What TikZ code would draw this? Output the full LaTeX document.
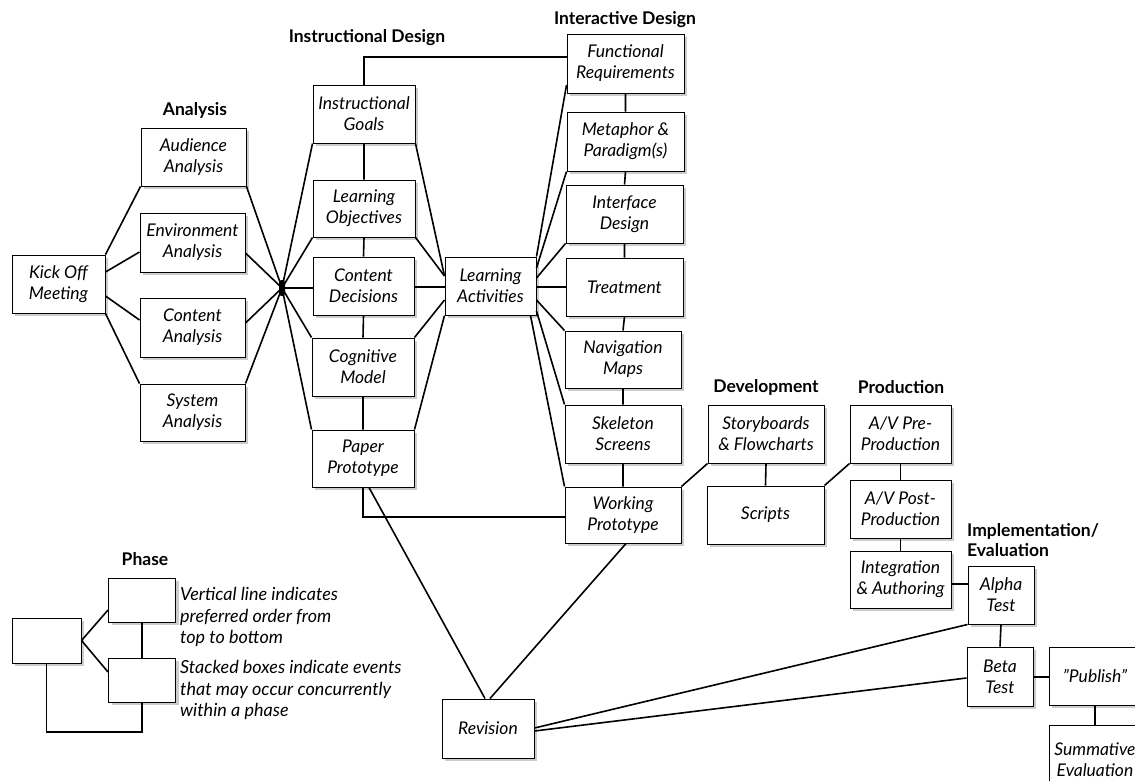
\documentclass[tikz,border=0pt]{standalone}
\usepackage{fontspec}
\setmainfont{Lato}
\usetikzlibrary{shadows}
\begin{document}
\begin{tikzpicture}[x=1pt,y=-1pt,
  box/.style={draw, line width=1pt, fill=white, align=center, inner sep=0pt,
    font=\fontsize{17.5}{21}\selectfont\itshape,
    drop shadow={shadow xshift=3pt, shadow yshift=-3pt, fill=black!40, opacity=0.5}},
  conn/.style={line width=1.6pt},
  phase/.style={font=\fontsize{17.5}{19.5}\selectfont\bfseries, align=center, inner sep=0pt},
  note/.style={font=\fontsize{18}{21.5}\selectfont\itshape, align=left, anchor=west, inner sep=0pt}]
\useasboundingbox (0,0) rectangle (1135,780);
\clip (0,0) rectangle (1135,780);

% ---- Analysis
\node[box,minimum width=93pt,minimum height=58pt] (kick) at (58.5,284) {Kick Off\\Meeting};
\node[box,minimum width=105pt,minimum height=58pt] (aud) at (193.5,157) {Audience\\Analysis};
\node[box,minimum width=105pt,minimum height=59pt] (env) at (192.5,242.5) {Environment\\Analysis};
\node[box,minimum width=105pt,minimum height=59pt] (con) at (192.5,327.5) {Content\\Analysis};
\node[box,minimum width=105pt,minimum height=57pt] (sys) at (192.5,412.5) {System\\Analysis};
\node[fill=black, inner sep=0pt, minimum width=6pt, minimum height=16pt, rounded corners=2.5pt] (hub) at (282,288) {};

% ---- Instructional design
\node[box,minimum width=102pt,minimum height=58pt] (ig) at (364,114) {Instructional\\Goals};
\node[box,minimum width=102pt,minimum height=57pt] (lo) at (364,208.5) {Learning\\Objectives};
\node[box,minimum width=101pt,minimum height=58pt] (cd) at (363.5,286) {Content\\Decisions};
\node[box,minimum width=102pt,minimum height=58pt] (cm) at (363,367) {Cognitive\\Model};
\node[box,minimum width=102pt,minimum height=57pt] (pp) at (363,458.5) {Paper\\Prototype};
\node[box,minimum width=91pt,minimum height=58pt] (la) at (490.5,286) {Learning\\Activities};

% ---- Interactive design
\node[box,minimum width=117pt,minimum height=59pt] (fr) at (625.5,63.5) {Functional\\Requirements};
\node[box,minimum width=117pt,minimum height=59pt] (mp) at (625.5,141.5) {Metaphor \&\\Paradigm(s)};
\node[box,minimum width=117pt,minimum height=58pt] (id) at (624.5,214) {Interface\\Design};
\node[box,minimum width=117pt,minimum height=58pt] (tr) at (624.5,287) {Treatment};
\node[box,minimum width=116pt,minimum height=57pt] (nm) at (623,359.5) {Navigation\\Maps};
\node[box,minimum width=116pt,minimum height=58pt] (ss) at (623,434) {Skeleton\\Screens};
\node[box,minimum width=116pt,minimum height=56pt] (wp) at (623,515) {Working\\Prototype};
\node[box,minimum width=92pt,minimum height=59pt] (rev) at (488,728.5) {Revision};

% ---- Development / Production
\node[box,minimum width=116pt,minimum height=58pt] (sb) at (766,434) {Storyboards\\\& Flowcharts};
\node[box,minimum width=117pt,minimum height=58pt] (sc) at (765.5,515) {Scripts};
\node[box,minimum width=101pt,minimum height=58pt] (avpre) at (900.5,434) {A/V Pre-\\Production};
\node[box,minimum width=101pt,minimum height=58pt] (avpost) at (900.5,509) {A/V Post-\\Production};
\node[box,minimum width=101pt,minimum height=57pt] (ia) at (900.5,579.5) {Integration\\\& Authoring};

% ---- Implementation / Evaluation
\node[box,minimum width=66pt,minimum height=58pt] (alpha) at (1001,595) {Alpha\\Test};
\node[box,minimum width=66pt,minimum height=59pt] (beta) at (1000,676.5) {Beta\\Test};
\node[box,minimum width=92pt,minimum height=58pt] (pub) at (1095,676) {\symbol{34}Publish\symbol{34}};
\node[box,minimum width=92pt,minimum height=70pt] (sum) at (1095,760) {Summative\\Evaluation};

% ---- Legend
\node[box,minimum width=69pt,minimum height=45pt] (lg1) at (46.5,640.5) {};
\node[box,minimum width=67pt,minimum height=44pt] (lg2) at (142,600) {};
\node[box,minimum width=67pt,minimum height=44pt] (lg3) at (142,680) {};

% ---- Phase titles and notes
\node[phase] (tA) at (195,110) {Analysis};
\node[phase] (tID) at (367,38) {Instructional Design};
\node[phase] (tIA) at (625,20) {Interactive Design};
\node[phase] (tDev) at (766,387) {Development};
\node[phase] (tProd) at (901,387) {Production};
\node[phase, align=left, anchor=west] (tImp) at (967,540) {Implementation/\\Evaluation};
\node[phase] (tPh) at (145,559) {Phase};
\node[note] (n1) at (180,617) {Vertical line indicates\\preferred order from\\top to bottom};
\node[note] (n2) at (180,690) {Stacked boxes indicate events\\that may occur concurrently\\within a phase};

% ---- Connectors: analysis
\draw[conn] (kick.north east) -- (aud.south west);
\draw[conn] (kick.east |- 0,272) -- (env.west |- 0,252);
\draw[conn] (kick.east |- 0,296) -- (con.west |- 0,320);
\draw[conn] (kick.south east) -- (sys.north west);
\draw[conn] (aud.south east) -- (hub.center);
\draw[conn] (env.east |- 0,253) -- (hub.center);
\draw[conn] (con.east |- 0,323) -- (hub.center);
\draw[conn] (sys.north east) -- (hub.center);
\draw[conn] (hub.center) -- (ig.south west);
\draw[conn] (hub.center) -- (lo.south west);
\draw[conn] (hub.center) -- (cd.west |- hub.center);
\draw[conn] (hub.center) -- (cm.north west);
\draw[conn] (hub.center) -- (pp.north west);

% ---- instructional design
\draw[conn] (ig.north) -- (ig.north |- 0,57) -- (fr.west |- 0,57);
\draw[conn] (ig.south) -- (lo.north) (lo.south) -- (cd.north) (cd.south) -- (cm.north) (cm.south) -- (pp.north);
\draw[conn] (ig.south east) -- (la.west |- 0,276);
\draw[conn] (lo.south east) -- (la.west |- 0,276);
\draw[conn] (cd.east |- 0,287) -- (la.west |- 0,287);
\draw[conn] (cm.north east) -- (la.west |- 0,300);
\draw[conn] (pp.north east) -- (la.south west);

% ---- interactive design
\draw[conn] (la.north east) -- (fr.west |- 0,85);
\draw[conn] (la.east |- 0,268) -- (mp.south west);
\draw[conn] (la.east |- 0,278) -- (id.south west);
\draw[conn] (la.east |- 0,287) -- (tr.west |- 0,287);
\draw[conn] (la.east |- 0,300) -- (nm.north west);
\draw[conn] (la.east |- 0,311) -- (ss.north west);
\draw[conn] ([xshift=-6pt]la.south east) -- (wp.north west);
\draw[conn] (fr.south) -- (mp.north) (mp.south) -- (id.north) (id.south) -- (tr.north)
            (tr.south) -- (nm.north) (nm.south) -- (ss.north) (ss.south) -- (wp.north);
\draw[conn] (pp.south) -- (pp.south |- 0,517) -- (wp.west |- 0,517);
\draw[conn] ([xshift=6pt]pp.south) -- ([xshift=-3pt]rev.north);
\draw[conn] ([xshift=3pt]wp.south) -- ([xshift=2pt]rev.north);

% ---- development / production / evaluation
\draw[conn] (wp.north east) -- (sb.south west);
\draw[conn] (sb.south) -- (sc.north);
\draw[conn] (sc.north east) -- (avpre.south west);
\draw[conn] (avpre.south) -- (avpost.north) (avpost.south) -- (ia.north);
\draw[conn] (ia.east |- 0,584) -- (alpha.west |- 0,584);
\draw[conn] (alpha.south) -- (beta.north);
\draw[conn] (beta.east |- 0,677) -- (pub.west |- 0,677);
\draw[conn] (pub.south) -- (sum.north);
\draw[conn] (rev.east |- 0,728) -- (alpha.south west);
\draw[conn] (rev.east |- 0,731) -- (beta.west |- 0,678);

% ---- legend connectors
\draw[conn] (lg1.east) -- (lg2.west |- 0,610);
\draw[conn] (lg1.east) -- (lg3.west |- 0,672);
\draw[conn] (lg2.south) -- (lg3.north);
\draw[conn] (lg1.south) -- (lg1.south |- 0,732) -- (lg3.south |- 0,732) -- (lg3.south);
\end{tikzpicture}
\end{document}
